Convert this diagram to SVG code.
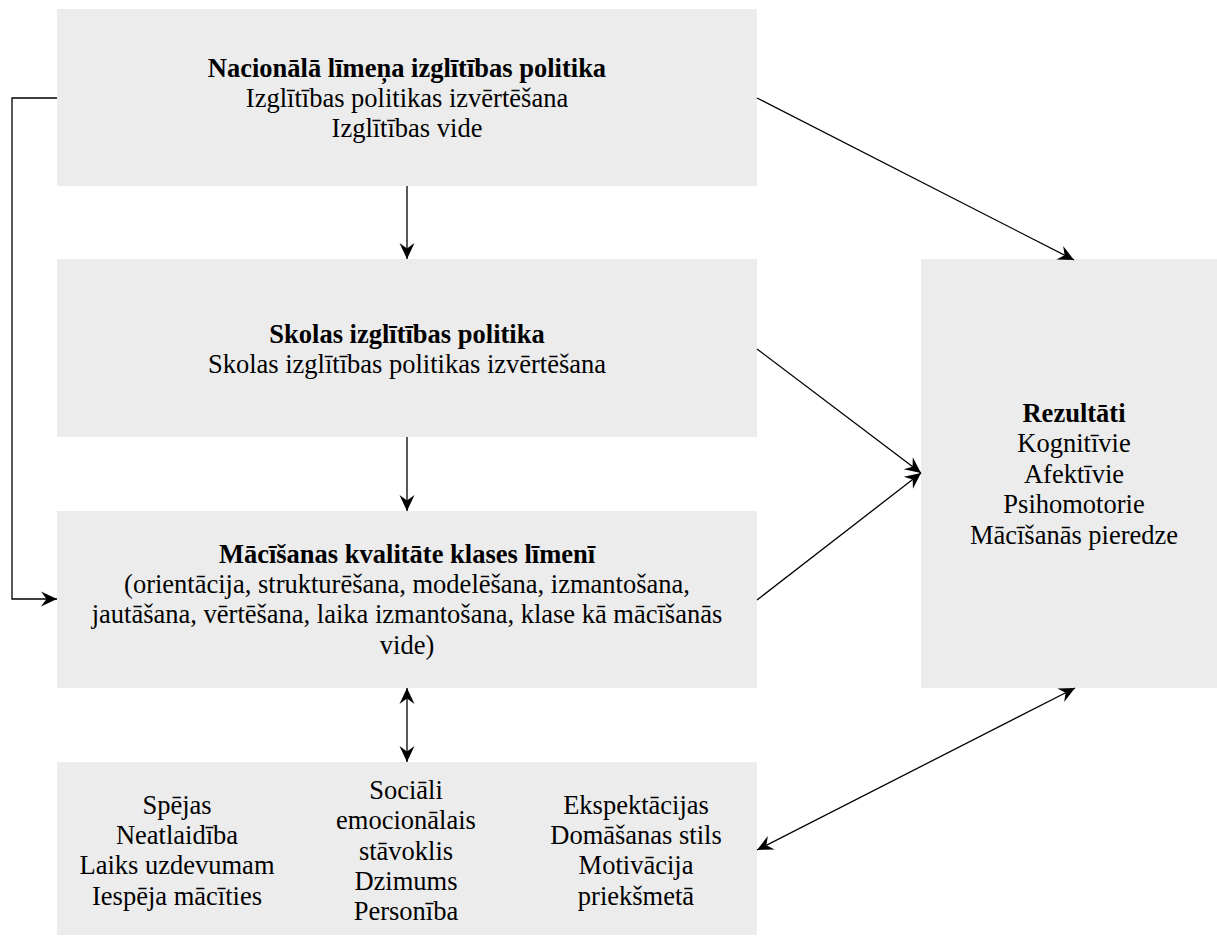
<svg xmlns="http://www.w3.org/2000/svg" width="1217" height="936" viewBox="0 0 1217 936">
  <style>
    .box { fill: #ececec; stroke: none; }
    text { font-family: "Liberation Serif", "Times New Roman", serif; font-size: 26.5px; fill: #000; text-anchor: middle; }
    .b { font-weight: bold; }
    .link { fill: none; stroke: #000; stroke-width: 1.3; }
  </style>
  <defs>
    <marker id="arrow" viewBox="-17 -8 18 16" refX="0" refY="0" markerWidth="18" markerHeight="16" markerUnits="userSpaceOnUse" orient="auto-start-reverse">
      <path d="M0,0 L-16,-7.5 L-10.5,0 L-16,7.5 Z" fill="#000"/>
    </marker>
  </defs>

  <rect width="1217" height="936" fill="#fff"/>

  <!-- national level policy -->
  <g id="national">
    <rect class="box" x="57" y="9" width="700" height="177"/>
    <text x="407" y="77" class="b">Nacionālā līmeņa izglītības politika</text>
    <text x="407" y="107">Izglītības politikas izvērtēšana</text>
    <text x="407" y="137">Izglītības vide</text>
  </g>

  <!-- school level policy -->
  <g id="school">
    <rect class="box" x="57" y="259" width="700" height="178"/>
    <text x="407" y="343" class="b">Skolas izglītības politika</text>
    <text x="407" y="373">Skolas izglītības politikas izvērtēšana</text>
  </g>

  <!-- classroom teaching quality -->
  <g id="classroom">
    <rect class="box" x="57" y="511" width="700" height="177"/>
    <text x="407" y="563" class="b">Mācīšanas kvalitāte klases līmenī</text>
    <text x="407" y="593">(orientācija, strukturēšana, modelēšana, izmantošana,</text>
    <text x="407" y="623">jautāšana, vērtēšana, laika izmantošana, klase kā mācīšanās</text>
    <text x="407" y="654">vide)</text>
  </g>

  <!-- outcomes -->
  <g id="outcomes">
    <rect class="box" x="921" y="259" width="300" height="429"/>
    <text x="1074" y="422" class="b">Rezultāti</text>
    <text x="1074" y="452">Kognitīvie</text>
    <text x="1074" y="483">Afektīvie</text>
    <text x="1074" y="513">Psihomotorie</text>
    <text x="1074" y="544">Mācīšanās pieredze</text>
  </g>

  <!-- student characteristics -->
  <g id="student">
    <rect class="box" x="57" y="762" width="700" height="173"/>
    <text x="177" y="814">Spējas</text>
    <text x="177" y="844">Neatlaidība</text>
    <text x="177" y="874">Laiks uzdevumam</text>
    <text x="177" y="905">Iespēja mācīties</text>
    <text x="406" y="799">Sociāli</text>
    <text x="406" y="829">emocionālais</text>
    <text x="406" y="860">stāvoklis</text>
    <text x="406" y="890">Dzimums</text>
    <text x="406" y="920">Personība</text>
    <text x="636" y="814">Ekspektācijas</text>
    <text x="636" y="844">Domāšanas stils</text>
    <text x="636" y="874">Motivācija</text>
    <text x="636" y="905">priekšmetā</text>
  </g>

  <!-- connectors -->
  <g id="connectors">
    <path class="link" d="M57,98 H12 V599 H57" marker-end="url(#arrow)"/>
    <path class="link" d="M407,186 V259" marker-end="url(#arrow)"/>
    <path class="link" d="M407,437 V511" marker-end="url(#arrow)"/>
    <path class="link" d="M407,688 V762" marker-start="url(#arrow)" marker-end="url(#arrow)"/>
    <path class="link" d="M757,98 L1074,260" marker-end="url(#arrow)"/>
    <path class="link" d="M757,349 L921,473" marker-end="url(#arrow)"/>
    <path class="link" d="M757,600 L921,473" marker-end="url(#arrow)"/>
    <path class="link" d="M757,850 L1075,688" marker-start="url(#arrow)" marker-end="url(#arrow)"/>
  </g>
</svg>
